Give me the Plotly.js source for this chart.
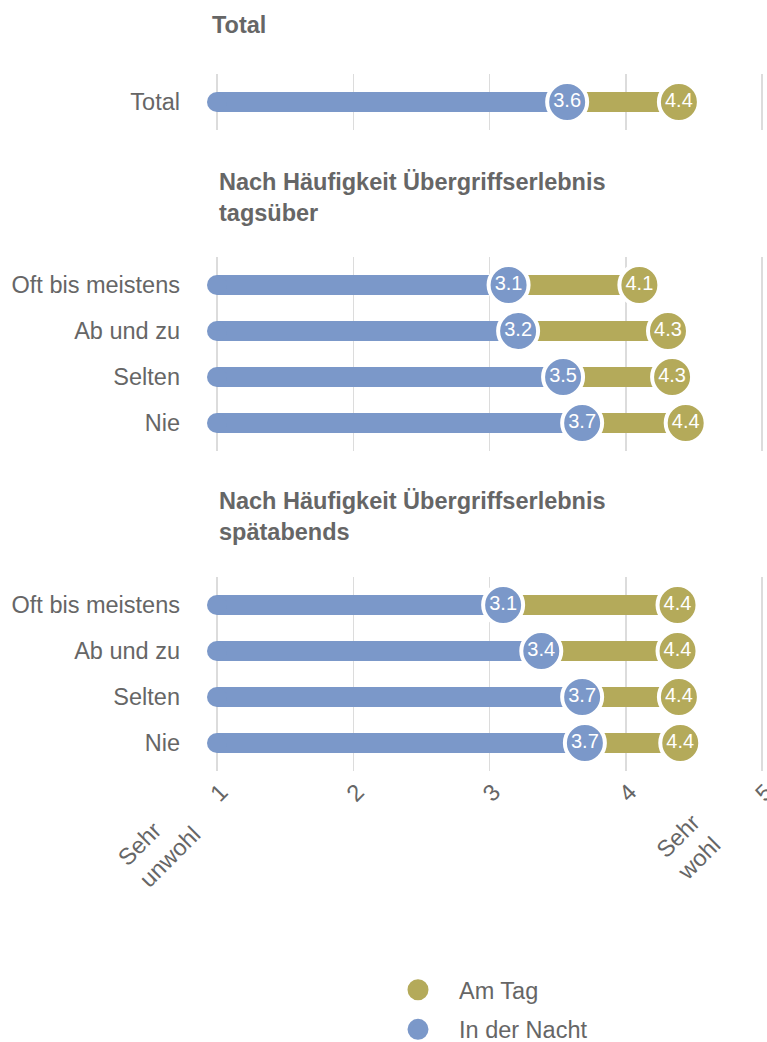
<!DOCTYPE html>
<html>
<head>
<meta charset="utf-8">
<script src="https://cdn.plot.ly/plotly-3.0.1.min.js"></script>
<style>html,body{margin:0;padding:0;background:#fff;overflow:hidden;}#chart{width:767px;height:1042px;}</style>
</head>
<body>
<div id="chart"></div>
<script>
// ---- data ----
const panelTitles = [
  ["Total"],
  ["Nach Häufigkeit Übergriffserlebnis", "tagsüber"],
  ["Nach Häufigkeit Übergriffserlebnis", "spätabends"]
];
const catsTotal = ["Total"];
const catsFreq = ["Oft bis meistens", "Ab und zu", "Selten", "Nie"];

const nightTotal = [3.57];
const dayTotal = [4.39];

const nightTags = [3.14, 3.21, 3.54, 3.68];
const dayTags = [4.10, 4.31, 4.34, 4.44];

const nightAbends = [3.10, 3.38, 3.68, 3.70];
const dayAbends = [4.38, 4.38, 4.39, 4.40];

const scaleMin = 1;
const tickVals = [1, 2, 3, 4, 5];
const tickText = ["1", "2", "3", "4", "5"];
const endLabels = ["Sehr<br>unwohl", "Sehr<br>wohl"];
const seriesNames = ["Am Tag", "In der Nacht"];

// ---- style ----
const BLUE = "#7b98c9";
const OLIVE = "#b4aa5a";
const GREY = "#666666";
const FONT = "Liberation Sans, Arial, sans-serif";
const FS = 23.5;

const panels = [
  {cats: catsTotal, night: nightTotal, day: dayTotal, ya: "y"},
  {cats: catsFreq, night: nightTags, day: dayTags, ya: "y2"},
  {cats: catsFreq, night: nightAbends, day: dayAbends, ya: "y3"}
];

function segs(cats, from, to) {
  const xs = [], ys = [];
  cats.forEach((c, i) => {
    xs.push(Array.isArray(from) ? from[i] : from, to[i], null);
    ys.push(c, c, null);
  });
  return {x: xs, y: ys};
}

const traces = [];
panels.forEach(p => {
  const b = segs(p.cats, scaleMin, p.night);
  traces.push({type: "scatter", mode: "lines", x: b.x, y: b.y, yaxis: p.ya,
    line: {color: BLUE, width: 20}, showlegend: false, hoverinfo: "skip", connectgaps: false});
  traces.push({type: "scatter", mode: "markers", x: p.cats.map(() => scaleMin), y: p.cats, yaxis: p.ya,
    marker: {color: BLUE, size: 20}, showlegend: false, hoverinfo: "skip", cliponaxis: false});
  const o = segs(p.cats, p.night, p.day);
  traces.push({type: "scatter", mode: "lines", x: o.x, y: o.y, yaxis: p.ya,
    line: {color: OLIVE, width: 20}, showlegend: false, hoverinfo: "skip", connectgaps: false});
  traces.push({type: "scatter", mode: "markers+text", x: p.day, y: p.cats, yaxis: p.ya,
    marker: {color: OLIVE, size: 40, line: {color: "#ffffff", width: 4}},
    texttemplate: "%{x:.1f}", textposition: "middle center",
    textfont: {color: "#ffffff", size: 20, family: FONT},
    showlegend: false, hoverinfo: "skip", cliponaxis: false});
  traces.push({type: "scatter", mode: "markers+text", x: p.night, y: p.cats, yaxis: p.ya,
    marker: {color: BLUE, size: 40, line: {color: "#ffffff", width: 4}},
    texttemplate: "%{x:.1f}", textposition: "middle center",
    textfont: {color: "#ffffff", size: 20, family: FONT},
    showlegend: false, hoverinfo: "skip", cliponaxis: false});
});
// legend entries
traces.push({type: "scatter", mode: "markers", x: [null], y: [null], yaxis: "y3", name: seriesNames[0],
  legendgroup: "a", marker: {color: OLIVE, size: 16, line: {color: OLIVE, width: 5}}});
traces.push({type: "scatter", mode: "markers", x: [null], y: [null], yaxis: "y3", name: seriesNames[1],
  legendgroup: "b", marker: {color: BLUE, size: 16, line: {color: BLUE, width: 5}}});

const H = 1042, W = 767, ML = 200;
const py = px => 1 - px / H;
const pxX = px => (px - ML) / (W - ML);

const yBase = {
  showgrid: false, zeroline: false, showline: false, ticks: "", type: "category",
  tickfont: {size: FS, color: GREY, family: FONT}, ticklabelstandoff: 19, fixedrange: true,
  automargin: false
};

const annotations = [];
const titleY = [25, 197, 516];
const titleX = [210, 217, 217];
panelTitles.forEach((lines, i) => {
  annotations.push({xref: "paper", yref: "paper", x: pxX(titleX[i]), y: py(titleY[i]),
    xanchor: "left", yanchor: "middle", align: "left", showarrow: false,
    text: lines.map(t => "<b>" + t + "</b>").join("<br>"),
    font: {size: FS, color: GREY, family: FONT}});
});
annotations.push({xref: "x", yref: "paper", x: 0.934, y: py(797), xanchor: "right", yanchor: "top",
  showarrow: false, text: endLabels[0], textangle: -45, align: "left",
  font: {size: FS, color: GREY, family: FONT}});
annotations.push({xref: "x", yref: "paper", x: 4.76, y: py(806), xanchor: "right", yanchor: "top",
  showarrow: false, text: endLabels[1], textangle: -45, align: "left",
  font: {size: FS, color: GREY, family: FONT}});

const layout = {
  width: W, height: H,
  margin: {l: ML, r: 0, t: 0, b: 0, autoexpand: false},
  paper_bgcolor: "#ffffff", plot_bgcolor: "#ffffff",
  font: {family: FONT, color: GREY},
  xaxis: {
    range: [1 - 17 / 136.25, 5 + 5 / 136.25], anchor: "y3",
    tickvals: tickVals, ticktext: tickText, tickangle: -45,
    ticklabeloverflow: "allow", ticklabelshift: 4, ticklabelstandoff: 2,
    showgrid: true, gridcolor: "#dcdcdc", gridwidth: 1.5, zeroline: false, showline: false, ticks: "",
    tickfont: {size: FS, color: GREY, family: FONT}, fixedrange: true, automargin: false
  },
  yaxis: Object.assign({}, yBase, {domain: [py(129.6), py(74.4)], range: [0.6, -0.6],
    categoryorder: "array", categoryarray: catsTotal, anchor: "x"}),
  yaxis2: Object.assign({}, yBase, {domain: [py(450.6), py(257.4)], range: [3.6, -0.6],
    categoryorder: "array", categoryarray: catsFreq, anchor: "x"}),
  yaxis3: Object.assign({}, yBase, {domain: [py(770.6), py(577.4)], range: [3.6, -0.6],
    categoryorder: "array", categoryarray: catsFreq, anchor: "x"}),
  showlegend: true,
  legend: {
    x: pxX(377), xanchor: "left", y: py(968), yanchor: "top",
    orientation: "v", traceorder: "grouped", tracegroupgap: 6, itemwidth: 72,
    font: {size: FS, color: GREY, family: FONT}, bgcolor: "rgba(0,0,0,0)"
  },
  annotations: annotations
};

Plotly.newPlot("chart", traces, layout, {staticPlot: true, displayModeBar: false});
</script>
</body>
</html>
